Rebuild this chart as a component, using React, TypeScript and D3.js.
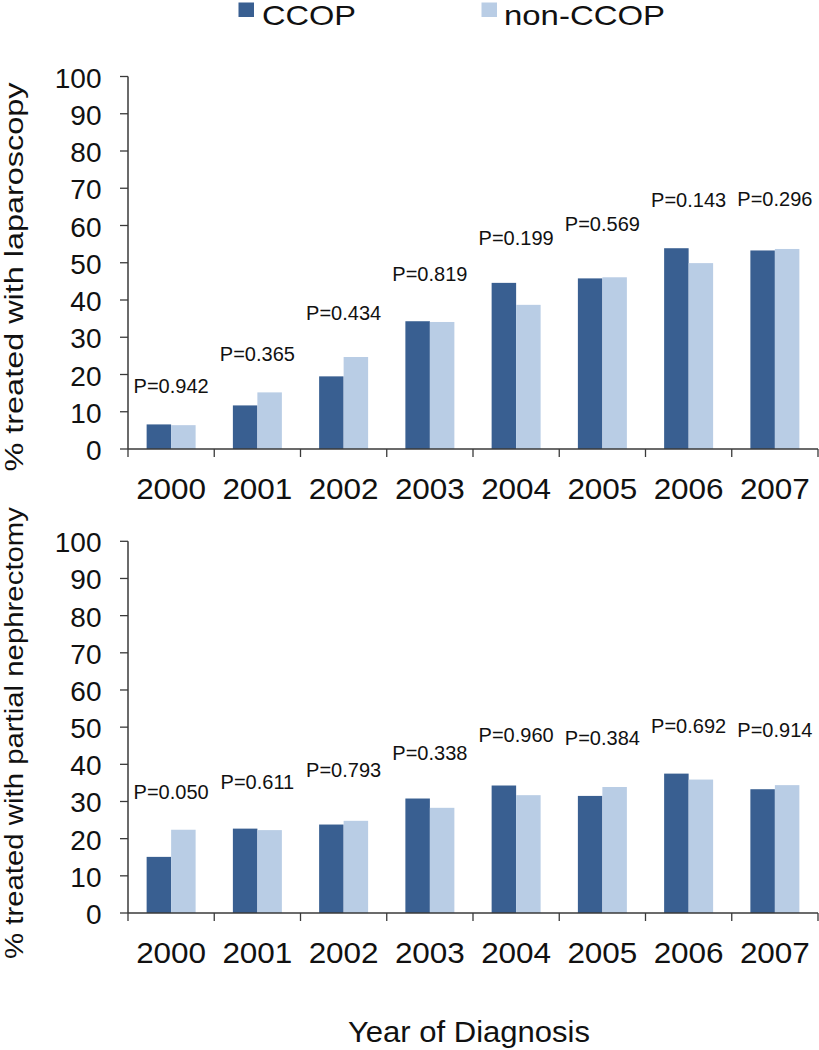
import React from 'react';
import * as d3 from 'd3';

const years = ['2000', '2001', '2002', '2003', '2004', '2005', '2006', '2007'];
const seriesNames = ['CCOP', 'non-CCOP'];

const lapCCOP = [6.6, 11.7, 19.5, 34.3, 44.6, 45.8, 53.9, 53.3];
const lapNon = [6.4, 15.2, 24.7, 34.1, 38.7, 46.1, 49.9, 53.7];
const lapP = ['P=0.942', 'P=0.365', 'P=0.434', 'P=0.819', 'P=0.199', 'P=0.569', 'P=0.143', 'P=0.296'];
const lapPLevel = [15.0, 23.6, 34.6, 45.0, 54.8, 58.6, 64.9, 65.3];

const pnCCOP = [15.1, 22.7, 23.8, 30.8, 34.3, 31.5, 37.5, 33.3];
const pnNon = [22.4, 22.3, 24.8, 28.3, 31.7, 33.9, 35.9, 34.4];
const pnP = ['P=0.050', 'P=0.611', 'P=0.793', 'P=0.338', 'P=0.960', 'P=0.384', 'P=0.692', 'P=0.914'];
const pnPLevel = [30.6, 33.3, 36.5, 41.1, 45.9, 45.2, 48.3, 47.4];

const yTicks = [0, 10, 20, 30, 40, 50, 60, 70, 80, 90, 100];

const COLORS = ['#395f91', '#b9cde5'];
const AXIS = '#3a3a3a';
const FONT = '"Liberation Sans", Arial, Helvetica, sans-serif';

const W = 819;
const H = 1050;
const X0 = 128;
const X1 = 818;

const x = d3.scaleBand<string>().domain(years).range([X0, X1]).paddingInner(0.432).paddingOuter(0.216);
const xs = d3.scaleBand<string>().domain(seriesNames).range([0, x.bandwidth()]);
const step = (X1 - X0) / years.length;

function Panel({ top, bottom, a, b, pLabels, pLevels, title, titleLen, titleCenter }: any) {
  const y = d3.scaleLinear().domain([0, 100]).range([bottom, top]);
  const series = [a, b];
  return (
    <g>
      {years.map((yr, i) =>
        series.map((s: number[], k: number) => (
          <rect
            key={yr + k}
            x={(x(yr) as number) + (xs(seriesNames[k]) as number)}
            y={y(s[i])}
            width={xs.bandwidth()}
            height={y(0) - y(s[i])}
            fill={COLORS[k]}
          />
        ))
      )}
      <line x1={X0} x2={X0} y1={y(100)} y2={y(0)} stroke={AXIS} strokeWidth={1.5} />
      {yTicks.map((t) => (
        <g key={t}>
          <line x1={X0 - 8} x2={X0} y1={y(t)} y2={y(t)} stroke={AXIS} strokeWidth={1.3} />
          <text x={101.5} y={y(t) + 11} textAnchor="end" fontSize={28} fontFamily={FONT} fill="#111">
            {t}
          </text>
        </g>
      ))}
      <line x1={X0} x2={X1} y1={y(0)} y2={y(0)} stroke={AXIS} strokeWidth={1.5} />
      {d3.range(years.length + 1).map((i) => (
        <line key={i} x1={X0 + i * step} x2={X0 + i * step} y1={y(0)} y2={y(0) + 8} stroke={AXIS} strokeWidth={1.3} />
      ))}
      {years.map((yr) => (
        <text
          key={yr}
          x={(x(yr) as number) + x.bandwidth() / 2}
          y={y(0) + 50}
          textAnchor="middle"
          fontSize={29}
          fontFamily={FONT}
          textLength={70}
          lengthAdjust="spacingAndGlyphs"
          fill="#111"
        >
          {yr}
        </text>
      ))}
      {pLabels.map((p: string, i: number) => (
        <text
          key={p + i}
          x={(x(years[i]) as number) + x.bandwidth() / 2}
          y={y(pLevels[i])}
          textAnchor="middle"
          fontSize={20}
          fontFamily={FONT}
          fill="#111"
        >
          {p}
        </text>
      ))}
      <text
        transform={`translate(23,${titleCenter}) rotate(-90)`}
        textAnchor="middle"
        fontSize={26}
        fontFamily={FONT}
        textLength={titleLen}
        lengthAdjust="spacingAndGlyphs"
        fill="#111"
      >
        {title}
      </text>
    </g>
  );
}

export default function App() {
  return (
    <svg
      width={W}
      height={H}
      viewBox={`0 0 ${W} ${H}`}
      style={{ position: 'absolute', left: 0, top: 0, background: '#fff' }}
    >
      <rect x={0} y={0} width={W} height={H} fill="#fff" />
      <rect x={238.5} y={2.5} width={15.5} height={14.5} fill={COLORS[0]} />
      <text x={262} y={24.5} fontSize={28} fontFamily={FONT} textLength={94} lengthAdjust="spacingAndGlyphs" fill="#111">
        {seriesNames[0]}
      </text>
      <rect x={481.5} y={2.5} width={15.5} height={14.5} fill={COLORS[1]} />
      <text x={504} y={24.5} fontSize={28} fontFamily={FONT} textLength={161} lengthAdjust="spacingAndGlyphs" fill="#111">
        {seriesNames[1]}
      </text>

      <Panel
        top={76.5}
        bottom={449}
        a={lapCCOP}
        b={lapNon}
        pLabels={lapP}
        pLevels={lapPLevel}
        title="% treated with laparoscopy"
        titleLen={389}
        titleCenter={277}
      />
      <Panel
        top={541.3}
        bottom={913}
        a={pnCCOP}
        b={pnNon}
        pLabels={pnP}
        pLevels={pnPLevel}
        title="% treated with partial nephrectomy"
        titleLen={452}
        titleCenter={733}
      />
      <text
        x={469}
        y={1041.5}
        textAnchor="middle"
        fontSize={29}
        fontFamily={FONT}
        textLength={242}
        lengthAdjust="spacingAndGlyphs"
        fill="#111"
      >
        Year of Diagnosis
      </text>
    </svg>
  );
}
